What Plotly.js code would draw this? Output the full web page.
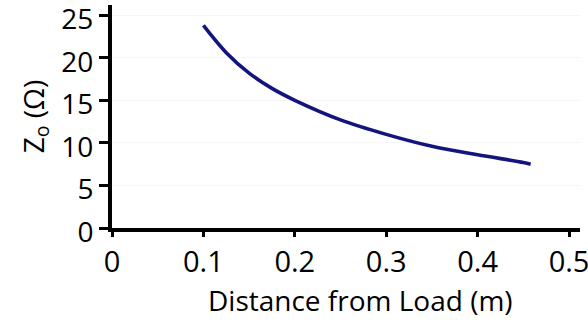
<!DOCTYPE html>
<html>
<head>
<meta charset="utf-8">
<script src="https://cdn.plot.ly/plotly-3.0.1.min.js"></script>
<style>html,body{margin:0;padding:0;background:#fff;}#chart{width:588px;height:322px;}</style>
</head>
<body>
<div id="chart"></div>
<script>
const distance = [0.1, 0.125, 0.15, 0.175, 0.2, 0.25, 0.3, 0.35, 0.4, 0.45, 0.458];
const impedance = [23.8, 20.6, 18.2, 16.4, 15.0, 12.7, 11.0, 9.6, 8.6, 7.7, 7.5];
const xTicks = [0, 0.1, 0.2, 0.3, 0.4, 0.5];
const xTickLabels = ['0', '0.1', '0.2', '0.3', '0.4', '0.5'];
const yTicks = [0, 5, 10, 15, 20, 25];
const xTitle = 'Distance from Load (m)';
const yTitle = 'Z<sub>o</sub> (Ω)';

const font = "'Open Sans', 'Noto Sans', sans-serif";
Plotly.newPlot('chart', [{
  x: distance, y: impedance, type: 'scatter', mode: 'lines',
  line: {color: '#14147f', width: 3.6, shape: 'spline', smoothing: 1}
}], {
  width: 588, height: 322,
  margin: {l: 112, r: 8, t: 5, b: 94},
  paper_bgcolor: '#fff', plot_bgcolor: '#fff',
  showlegend: false,
  font: {family: font, color: '#000', size: 29},
  xaxis: {
    range: [0, 0.512], tickvals: xTicks, ticktext: xTickLabels,
    showline: true, linecolor: '#000', linewidth: 4,
    ticks: 'outside', ticklen: 5, tickwidth: 3, tickcolor: '#000',
    showgrid: false, zeroline: false, ticklabeloverflow: 'allow',
    tickfont: {size: 29, family: font}
  },
  yaxis: {
    range: [0, 26.2], tickvals: yTicks,
    showline: true, linecolor: '#000', linewidth: 4,
    ticks: 'outside', ticklen: 9, tickwidth: 3, tickcolor: '#000',
    showgrid: true, gridcolor: '#f6f6f6', zeroline: false, ticklabeloverflow: 'allow',
    ticklabelshift: 4,
    tickfont: {size: 28, family: font},
    title: {text: yTitle, font: {size: 28, family: font}, standoff: 10}
  },
  annotations: [{
    text: xTitle, xref: 'paper', yref: 'paper', x: 0.53, y: -0.323,
    xanchor: 'center', yanchor: 'middle', showarrow: false,
    font: {size: 28, family: font, color: '#000'}
  }]
}, {staticPlot: true});
</script>
</body>
</html>
